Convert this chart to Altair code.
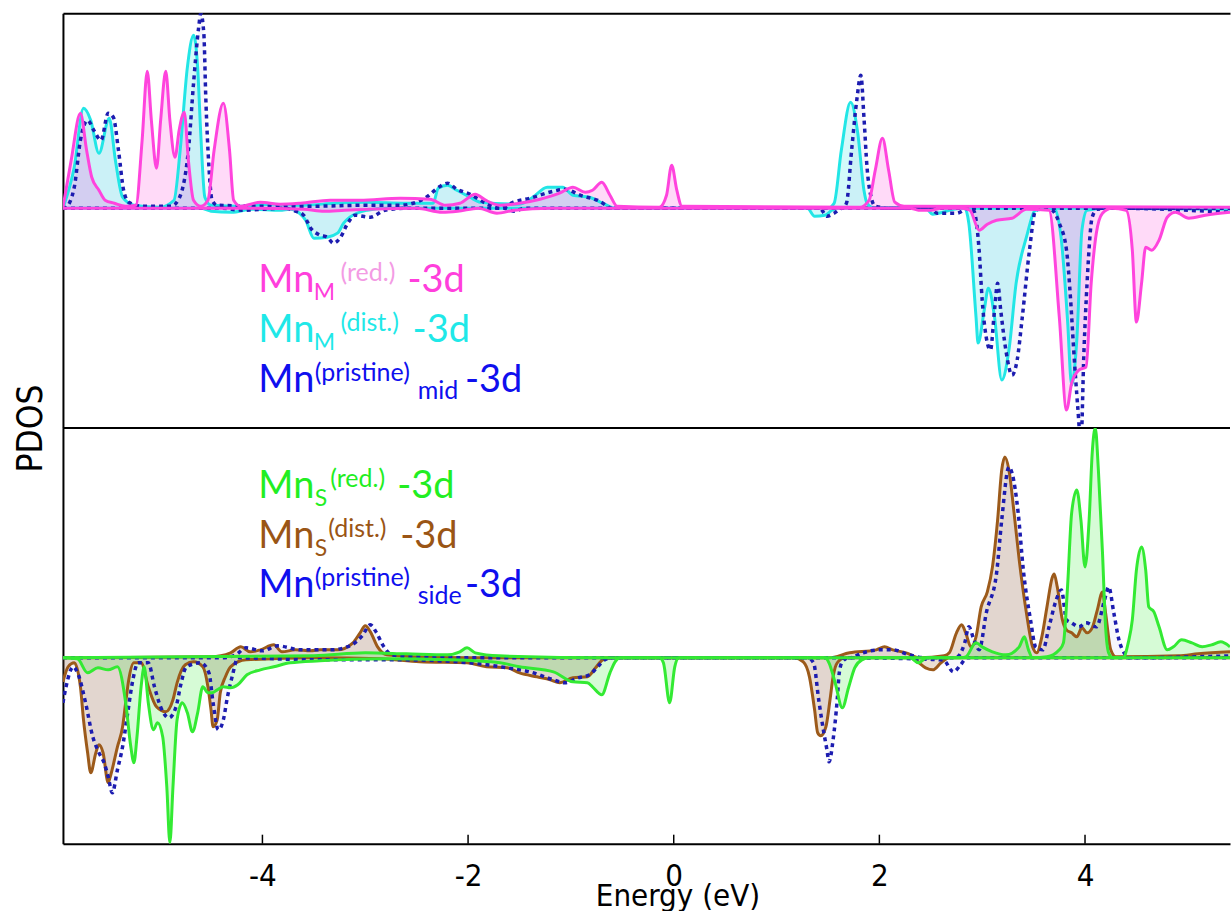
import altair as alt
import pandas as pd

# ---------------- data (energy in eV, PDOS in arbitrary units) ----------------
# Top panel: Mn_M(red.) pink, Mn_M(dist.) cyan, Mn(pristine)_mid blue dashed
pink_up = [(-5.94,0.01),(-5.86,0.48),(-5.77,0.95),(-5.71,0.58),(-5.66,0.31),(-5.59,0.18),(-5.53,0.08),(-5.44,0.05),
           (-5.33,0.02),(-5.23,0.03),(-5.17,0.68),(-5.12,1.37),(-5.08,0.88),(-5.03,0.40),(-4.99,0.88),(-4.94,1.37),
           (-4.90,0.88),(-4.85,0.51),(-4.81,0.78),(-4.76,0.96),(-4.72,0.48),(-4.67,0.08),(-4.60,0.02),(-4.53,0.08),
           (-4.47,0.58),(-4.38,1.05),(-4.32,0.58),(-4.28,0.08),(-4.21,0.02),(-4.02,0.06),(-3.83,0.04),(-3.63,0.05),
           (-3.34,0.08),(-3.05,0.08),(-2.66,0.10),(-2.37,0.09),(-2.22,0.03),(-2.08,0.05),(-1.93,0.14),(-1.83,0.08),
           (-1.69,0.03),(-1.50,0.05),(-1.30,0.09),(-1.11,0.15),(-0.98,0.21),(-0.86,0.16),(-0.79,0.18),(-0.70,0.26),
           (-0.62,0.13),(-0.55,0.02),(-0.14,0.01),(-0.07,0.13),(-0.02,0.43),(0.03,0.18),(0.08,0.02),(1.81,0.01),
           (1.90,0.08),(1.96,0.38),(2.03,0.70),(2.09,0.38),(2.15,0.06),(2.24,0.02),(5.41,0.01)]
pink_dn = [(-5.94,0.0),(-4.2,0.0),(-3.6,-0.01),(-3.4,-0.03),(-3.2,-0.02),(-2.5,0.0),(-2.25,-0.04),(-2.1,-0.03),
           (-1.9,0.0),(-1.72,-0.05),(-1.55,-0.02),(-1.2,0.0),(2.3,0.0),(2.38,-0.02),(2.50,-0.02),(2.6,0.0),
           (2.80,0.0),(2.88,-0.02),(2.97,-0.22),(3.05,-0.16),(3.14,-0.12),(3.29,-0.10),(3.43,-0.01),(3.65,-0.02),
           (3.75,-1.09),(3.82,-2.02),(3.87,-1.75),(3.94,-1.62),(4.01,-1.59),(4.06,-0.75),(4.11,-0.25),(4.17,-0.05),
           (4.26,0.0),(4.40,-0.02),(4.46,-0.42),(4.50,-1.14),(4.55,-0.75),(4.59,-0.39),(4.65,-0.42),(4.72,-0.32),
           (4.80,-0.09),(4.88,-0.04),(5.01,-0.10),(5.17,-0.07),(5.41,-0.04)]
cyan_up = [(-5.94,0.0),(-5.83,0.41),(-5.74,1.00),(-5.67,0.88),(-5.59,0.55),(-5.49,0.90),(-5.43,0.48),(-5.36,0.11),
           (-5.25,0.03),(-5.0,0.01),(-4.86,0.08),(-4.80,0.58),(-4.73,1.41),(-4.67,1.73),(-4.63,1.41),(-4.60,0.75),
           (-4.56,0.11),(-4.50,0.03),(-4.2,0.02),(-3.9,0.04),(-3.6,0.03),(-3.3,0.05),(-3.0,0.06),(-2.6,0.05),
           (-2.34,0.05),(-2.29,0.20),(-2.20,0.23),(-2.11,0.18),(-1.98,0.11),(-1.88,0.06),(-1.50,0.04),(-1.37,0.11),
           (-1.23,0.21),(-1.08,0.21),(-0.98,0.13),(-0.82,0.11),(-0.69,0.05),(-0.57,0.0),(1.50,0.0),(1.56,0.05),
           (1.63,0.58),(1.72,1.06),(1.79,0.75),(1.85,0.18),(1.88,0.05),(1.95,0.0),(5.41,0.0)]
cyan_dn = [(-5.94,0.0),(-4.6,0.0),(-4.5,-0.03),(-4.3,-0.04),(-4.1,-0.01),(-3.83,-0.02),(-3.73,-0.01),(-3.63,-0.06),
           (-3.58,-0.12),(-3.50,-0.30),(-3.37,-0.29),(-3.27,-0.25),(-3.21,-0.15),(-3.15,-0.09),(-2.98,-0.02),
           (-2.8,0.0),(1.30,0.0),(1.37,-0.08),(1.47,-0.07),(1.54,-0.02),(1.6,0.0),(2.45,0.0),(2.52,-0.06),
           (2.62,-0.04),(2.72,-0.01),(2.83,0.0),(2.87,-0.15),(2.94,-1.09),(2.96,-1.35),(3.02,-1.02),(3.06,-0.80),
           (3.12,-1.09),(3.19,-1.72),(3.26,-1.42),(3.33,-0.75),(3.43,-0.29),(3.52,-0.02),(3.70,0.0),(3.77,-0.32),
           (3.83,-1.12),(3.87,-1.77),(3.92,-1.32),(3.97,-0.22),(4.02,-0.02),(4.2,0.0),(5.41,-0.01)]
mid_up = [(-5.94,0.0),(-5.91,0.01),(-5.83,0.21),(-5.77,0.68),(-5.70,0.88),(-5.64,0.78),(-5.57,0.68),(-5.50,0.95),
          (-5.45,0.91),(-5.40,0.58),(-5.35,0.18),(-5.30,0.06),(-5.18,0.02),(-4.89,0.02),(-4.82,0.08),(-4.72,0.58),
          (-4.67,1.25),(-4.62,1.81),(-4.60,1.95),(-4.57,1.75),(-4.55,1.08),(-4.52,0.41),(-4.49,0.08),(-4.44,0.03),
          (-4.0,0.02),(-3.5,0.02),(-3.0,0.03),(-2.66,0.03),(-2.42,0.10),(-2.27,0.22),(-2.20,0.25),(-2.11,0.19),
          (-1.98,0.14),(-1.83,0.05),(-1.69,0.0),(-1.56,0.06),(-1.40,0.10),(-1.17,0.17),(-1.06,0.19),(-0.91,0.13),
          (-0.72,0.07),(-0.60,0.0),(1.64,0.0),(1.68,0.05),(1.73,0.58),(1.78,1.08),(1.82,1.33),(1.85,0.91),
          (1.88,0.41),(1.92,0.11),(1.96,0.02),(2.1,0.0),(5.41,0.0)]
mid_dn = [(-5.94,0.0),(-4.4,0.0),(-4.2,-0.02),(-3.78,0.0),(-3.68,-0.03),(-3.60,-0.07),(-3.53,-0.20),(-3.44,-0.27),
          (-3.37,-0.29),(-3.31,-0.35),(-3.24,-0.29),(-3.17,-0.15),(-3.10,-0.07),(-2.95,-0.09),(-2.81,-0.02),
          (-2.6,0.0),(-1.65,0.0),(-1.55,-0.03),(-1.45,0.0),(1.42,0.0),(1.49,-0.08),(1.56,-0.05),(1.64,0.0),
          (2.5,0.0),(2.56,-0.05),(2.75,-0.05),(2.87,0.0),(2.92,-0.03),(2.97,-0.42),(3.00,-0.92),(3.05,-1.35),
          (3.08,-1.42),(3.12,-1.02),(3.15,-0.75),(3.18,-1.02),(3.23,-1.42),(3.29,-1.67),(3.34,-1.52),(3.39,-1.09),
          (3.46,-0.42),(3.52,-0.02),(3.60,0.0),(3.68,-0.02),(3.75,-0.15),(3.82,-0.42),(3.86,-0.92),(3.89,-1.42),
          (3.93,-2.0),(3.96,-2.35),(3.99,-1.42),(4.02,-0.75),(4.07,-0.09),(4.12,-0.01),(4.3,0.0),(5.2,-0.03),
          (5.41,-0.04)]

# Bottom panel: Mn_S(red.) green, Mn_S(dist.) brown, Mn(pristine)_side blue dashed
green_up = [(-5.94,0.0),(-3.5,0.02),(-3.0,0.05),(-2.6,0.04),(-2.2,0.03),(-2.08,0.06),(-2.01,0.10),(-1.93,0.05),
            (-1.7,0.02),(-0.6,0.0),(2.78,0.0),(2.84,0.01),(2.94,0.15),(3.00,0.11),(3.10,0.06),(3.23,0.03),
            (3.36,0.11),(3.41,0.21),(3.45,0.08),(3.49,0.0),(3.63,0.01),(3.75,0.08),(3.79,0.15),(3.83,0.71),
            (3.87,1.45),(3.92,1.68),(3.96,1.38),(4.00,0.91),(4.04,1.38),(4.07,2.05),(4.10,2.30),(4.13,1.88),
            (4.17,1.05),(4.20,0.31),(4.23,0.05),(4.27,0.0),(4.37,0.0),(4.42,0.15),(4.46,0.38),(4.50,0.88),
            (4.55,1.11),(4.59,0.88),(4.62,0.51),(4.67,0.46),(4.72,0.31),(4.80,0.08),(4.86,0.11),(4.94,0.18),
            (5.04,0.15),(5.14,0.11),(5.23,0.13),(5.32,0.16),(5.41,0.11)]
green_dn = [(-5.94,0.0),(-5.80,-0.01),(-5.70,-0.15),(-5.60,-0.10),(-5.50,-0.12),(-5.41,-0.09),(-5.33,-0.45),
            (-5.28,-0.89),(-5.25,-1.05),(-5.22,-0.79),(-5.18,-0.29),(-5.15,-0.09),(-5.11,-0.45),(-5.06,-0.72),
            (-5.02,-0.65),(-4.97,-0.79),(-4.93,-1.29),(-4.90,-1.85),(-4.87,-1.29),(-4.83,-0.62),(-4.78,-0.45),
            (-4.73,-0.55),(-4.68,-0.74),(-4.63,-0.55),(-4.58,-0.29),(-4.53,-0.35),(-4.49,-0.35),(-4.44,-0.32),
            (-4.38,-0.29),(-4.31,-0.30),(-4.24,-0.27),(-4.15,-0.17),(-4.02,-0.12),(-3.89,-0.09),(-3.73,-0.05),
            (-3.44,-0.03),(-2.8,-0.01),(-2.17,-0.02),(-1.69,-0.05),(-1.50,-0.09),(-1.17,-0.14),(-0.98,-0.24),
            (-0.84,-0.25),(-0.79,-0.29),(-0.70,-0.37),(-0.62,-0.15),(-0.57,-0.04),(-0.52,0.0),(-0.14,0.0),
            (-0.10,-0.05),(-0.04,-0.45),(0.01,-0.09),(0.05,0.0),(1.47,0.0),(1.51,-0.05),(1.57,-0.25),(1.64,-0.50),
            (1.70,-0.30),(1.76,-0.10),(1.83,-0.02),(1.9,0.0),(2.30,0.0),(2.38,-0.05),(2.46,0.0),(5.41,0.0)]
brown_up = [(-5.94,0.0),(-4.5,0.01),(-4.31,0.05),(-4.21,0.11),(-4.12,0.06),(-4.02,0.08),(-3.89,0.13),(-3.81,0.06),
            (-3.68,0.08),(-3.53,0.07),(-3.44,0.08),(-3.27,0.08),(-3.12,0.15),(-3.05,0.25),(-3.00,0.32),(-2.95,0.26),
            (-2.88,0.11),(-2.79,0.03),(-2.5,0.01),(-2.0,0.0),(1.51,0.0),(1.71,0.05),(1.97,0.08),(2.05,0.11),
            (2.13,0.08),(2.26,0.05),(2.39,0.0),(2.63,0.02),(2.68,0.05),(2.75,0.25),(2.80,0.33),(2.84,0.25),
            (2.89,0.11),(2.94,0.21),(2.99,0.51),(3.05,0.66),(3.10,0.91),(3.15,1.38),(3.19,1.88),(3.22,2.01),
            (3.26,1.88),(3.31,1.45),(3.36,0.98),(3.43,0.45),(3.49,0.11),(3.53,0.05),(3.58,0.21),(3.63,0.51),
            (3.68,0.80),(3.70,0.84),(3.73,0.71),(3.78,0.38),(3.82,0.28),(3.87,0.25),(3.92,0.21),(3.97,0.30),
            (4.02,0.25),(4.07,0.30),(4.12,0.48),(4.17,0.66),(4.20,0.45),(4.25,0.08),(4.30,0.01),(4.91,0.02),
            (5.1,0.04),(5.41,0.06)]
brown_dn = [(-5.94,-0.24),(-5.89,-0.09),(-5.83,-0.05),(-5.77,-0.29),(-5.74,-0.62),(-5.70,-0.95),(-5.67,-1.15),
            (-5.62,-0.95),(-5.59,-0.87),(-5.55,-0.95),(-5.50,-1.25),(-5.48,-1.19),(-5.41,-0.89),(-5.36,-0.69),
            (-5.33,-0.45),(-5.30,-0.22),(-5.25,-0.05),(-5.18,-0.05),(-5.11,-0.29),(-5.03,-0.49),(-4.94,-0.54),
            (-4.87,-0.42),(-4.83,-0.25),(-4.75,-0.07),(-4.67,-0.04),(-4.58,-0.09),(-4.53,-0.29),(-4.50,-0.52),
            (-4.48,-0.69),(-4.44,-0.62),(-4.41,-0.35),(-4.36,-0.19),(-4.31,-0.09),(-4.16,-0.02),(-3.5,0.0),
            (-2.85,-0.01),(-2.47,-0.04),(-2.01,-0.05),(-1.82,-0.09),(-1.62,-0.10),(-1.50,-0.15),(-1.33,-0.19),
            (-1.20,-0.22),(-1.11,-0.25),(-0.98,-0.20),(-0.84,-0.19),(-0.76,-0.10),(-0.69,-0.02),(-0.6,0.0),
            (1.17,0.0),(1.26,-0.04),(1.32,-0.19),(1.37,-0.52),(1.40,-0.75),(1.43,-0.78),(1.48,-0.69),(1.52,-0.42),
            (1.55,-0.19),(1.59,-0.05),(1.67,0.0),(2.30,0.0),(2.36,-0.03),(2.45,-0.10),(2.52,-0.12),(2.60,-0.05),
            (2.68,0.0),(5.41,0.0)]
side_up = [(-5.94,0.0),(-4.4,0.0),(-4.26,0.03),(-4.16,0.10),(-4.0,0.07),(-3.85,0.12),(-3.63,0.08),(-3.34,0.08),
           (-3.15,0.12),(-3.03,0.22),(-2.95,0.33),(-2.89,0.25),(-2.83,0.13),(-2.74,0.03),(-2.5,0.01),(-2.0,0.0),
           (1.71,0.0),(1.84,0.05),(2.0,0.08),(2.13,0.08),(2.29,0.03),(2.45,0.0),(2.74,0.0),(2.83,0.15),(2.87,0.31),
           (2.92,0.18),(2.97,0.08),(3.04,0.45),(3.14,0.85),(3.19,1.38),(3.26,1.91),(3.29,1.85),(3.35,1.45),
           (3.40,0.88),(3.47,0.38),(3.52,0.11),(3.59,0.08),(3.65,0.31),(3.72,0.58),(3.77,0.68),(3.82,0.38),
           (3.87,0.35),(3.94,0.31),(4.01,0.35),(4.11,0.31),(4.19,0.58),(4.23,0.71),(4.28,0.45),(4.33,0.18),
           (4.38,0.05),(4.43,0.0),(5.41,0.02)]
side_dn = [(-5.94,-0.45),(-5.91,-0.29),(-5.84,-0.09),(-5.79,-0.17),(-5.72,-0.45),(-5.65,-0.79),(-5.59,-0.95),
           (-5.54,-1.05),(-5.50,-1.19),(-5.46,-1.35),(-5.41,-1.12),(-5.36,-0.89),(-5.31,-0.55),(-5.26,-0.22),
           (-5.21,-0.05),(-5.11,-0.05),(-5.05,-0.29),(-4.99,-0.49),(-4.91,-0.60),(-4.84,-0.49),(-4.79,-0.25),
           (-4.74,-0.09),(-4.60,-0.05),(-4.52,-0.15),(-4.48,-0.45),(-4.43,-0.72),(-4.38,-0.62),(-4.34,-0.39),
           (-4.29,-0.17),(-4.24,0.0),(-3.5,-0.02),(-2.66,-0.02),(-1.98,-0.05),(-1.62,-0.10),(-1.40,-0.14),
           (-1.17,-0.22),(-1.06,-0.25),(-0.93,-0.20),(-0.82,-0.17),(-0.74,-0.09),(-0.67,-0.02),(-0.6,0.0),
           (1.30,0.0),(1.36,-0.05),(1.41,-0.42),(1.46,-0.75),(1.49,-0.92),(1.51,-1.04),(1.55,-0.82),(1.59,-0.42),
           (1.61,-0.15),(1.64,-0.04),(1.70,0.0),(2.62,-0.02),(2.72,-0.14),(2.79,-0.07),(2.85,0.0),(5.41,0.0)]

x_domain = [-5.94, 5.41]
x_ticks = [-4, -2, 0, 2, 4]
top_domain = [-2.2, 1.95]
bot_domain = [-1.86, 2.30]

# legend text pieces: (x eV, y, text, colour, font size)
top_labels = [(-4.04,-0.84,"Mn","#FF3FDC",38),(-3.50,-0.92,"M","#FF3FDC",23),(-3.24,-0.73,"(red.)","#F39BE4",25),
              (-2.59,-0.84,"-3d","#FF3FDC",38),
              (-4.04,-1.34,"Mn","#1FE8E8",38),(-3.50,-1.42,"M","#1FE8E8",23),(-3.24,-1.23,"(dist.)","#1FE8E8",25),
              (-2.54,-1.34,"-3d","#1FE8E8",38),
              (-4.04,-1.84,"Mn","#0F0FEE",38),(-3.49,-1.73,"(pristine)","#0F0FEE",25),(-2.49,-1.91,"mid","#0F0FEE",25),
              (-2.03,-1.84,"-3d","#0F0FEE",38)]
bot_labels = [(-4.04,1.60,"Mn","#22EE22",38),(-3.49,1.52,"S","#22EE22",23),(-3.34,1.71,"(red.)","#22EE22",25),
              (-2.69,1.60,"-3d","#22EE22",38),
              (-4.04,1.10,"Mn","#9A5515",38),(-3.49,1.02,"S","#9A5515",23),(-3.36,1.21,"(dist.)","#9A5515",25),
              (-2.66,1.10,"-3d","#9A5515",38),
              (-4.04,0.61,"Mn","#0F0FEE",38),(-3.49,0.72,"(pristine)","#0F0FEE",25),(-2.49,0.54,"side","#0F0FEE",25),
              (-2.03,0.61,"-3d","#0F0FEE",38)]

# ---------------- styling ----------------
W, TOP_H, BOT_H = 1168, 415, 416
NARROW = "Liberation Sans Narrow, DejaVu Sans Condensed, sans-serif"
PINK, CYAN, NAVY = "#FF44DD", "#22E6E6", "#1C1CB0"
GREEN, BROWN = "#33EA33", "#9C5A1A"


def curve(up, dn):
    rows = [dict(part="up", x=a, y=b) for a, b in up] + [dict(part="down", x=a, y=b) for a, b in dn]
    return pd.DataFrame(rows)


def xenc(axis):
    return alt.X("x:Q", scale=alt.Scale(domain=x_domain, nice=False, zero=False), axis=axis)


def yenc(domain, axis, field="y"):
    return alt.Y(f"{field}:Q", scale=alt.Scale(domain=domain, nice=False, zero=False), axis=axis)


def layers(df, color, xaxis, yaxis, domain, dash=False, fill_op=0.2):
    area = alt.Chart(df).mark_area(interpolate="monotone", color=color, opacity=fill_op, clip=True).encode(
        x=xenc(xaxis), y=yenc(domain, yaxis), y2=alt.datum(0), detail="part:N")
    kw = dict(interpolate="monotone", color=color, strokeWidth=3, clip=True)
    if dash:
        kw.update(strokeDash=[4, 4], strokeWidth=3.5)
    line = alt.Chart(df).mark_line(**kw).encode(x=xenc(xaxis), y=yenc(domain, yaxis), detail="part:N")
    return area, line


def text_layer(items, xaxis, yaxis, domain):
    df = pd.DataFrame(items, columns=["x", "y", "t", "c", "s"])
    return alt.Chart(df).mark_text(align="left", baseline="alphabetic", font="Lato").encode(
        x=xenc(xaxis), y=yenc(domain, yaxis), text="t:N",
        color=alt.Color("c:N", scale=None), size=alt.Size("s:Q", scale=None))


# top panel
top_x_axis = alt.Axis(orient="top", labels=False, ticks=False, title=None, grid=False,
                      domainColor="black", domainWidth=2)
top_y_axis = alt.Axis(labels=False, ticks=False, grid=False, domainColor="black", domainWidth=2,
                      title="PDOS", titleFont=NARROW, titleFontSize=35, titleFontWeight="normal",
                      titleColor="black", titlePadding=14, titleY=TOP_H)
pa, pl = layers(curve(pink_up, pink_dn), PINK, top_x_axis, top_y_axis, top_domain)
ca, cl = layers(curve(cyan_up, cyan_dn), CYAN, top_x_axis, top_y_axis, top_domain)
ma, ml = layers(curve(mid_up, mid_dn), NAVY, top_x_axis, top_y_axis, top_domain, dash=True, fill_op=0.04)
divider = alt.Chart(pd.DataFrame({"y": [top_domain[0]]})).mark_rule(color="black", strokeWidth=2).encode(
    y=yenc(top_domain, top_y_axis))
top = alt.layer(ca, pa, ma, cl, ml, pl, divider,
                text_layer(top_labels, top_x_axis, top_y_axis, top_domain)).properties(width=W, height=TOP_H)

# bottom panel
bot_x_axis = alt.Axis(orient="bottom", values=x_ticks, ticks=False, grid=False, domainColor="black",
                      domainWidth=2, labelFont=NARROW, labelFontSize=31, labelColor="black",
                      labelPadding=18, labelExpr="'' + datum.value",
                      title="Energy (eV)", titleFont=NARROW, titleFontSize=31, titleFontWeight="normal",
                      titleColor="black", titleX=615, titleY=38, titleBaseline="top")
bot_y_axis = alt.Axis(labels=False, ticks=False, grid=False, domainColor="black", domainWidth=2, title=None)
ba, bl = layers(curve(brown_up, brown_dn), BROWN, bot_x_axis, bot_y_axis, bot_domain)
ga, gl = layers(curve(green_up, green_dn), GREEN, bot_x_axis, bot_y_axis, bot_domain)
sa, sl = layers(curve(side_up, side_dn), NAVY, bot_x_axis, bot_y_axis, bot_domain, dash=True, fill_op=0.04)
ticks = alt.Chart(pd.DataFrame({"x": x_ticks})).mark_rule(color="black", strokeWidth=1.5).encode(
    x=xenc(bot_x_axis), y=alt.value(BOT_H), y2=alt.value(BOT_H - 9))
bottom = alt.layer(ba, ga, sa, bl, sl, gl, ticks,
                   text_layer(bot_labels, bot_x_axis, bot_y_axis, bot_domain)).properties(width=W, height=BOT_H)

chart = alt.vconcat(top, bottom, spacing=0, bounds="flush").properties(
    padding={"left": 14, "top": 13, "right": 0, "bottom": 0}
).configure_view(stroke=None)

chart.save("out.html", embed_options={"renderer": "svg", "actions": False})
